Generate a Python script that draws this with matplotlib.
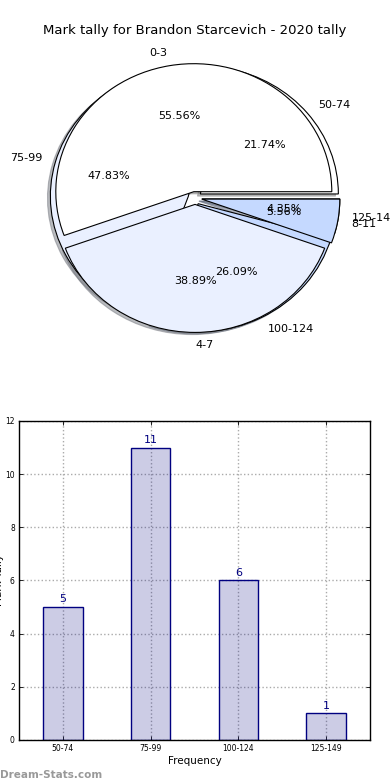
import matplotlib
matplotlib.use("Agg")
import matplotlib.pyplot as plt

title = "Mark tally for Brandon Starcevich - 2020 tally"

# first (older) pie
pie1_labels = ["0-3", "4-7", "8-11"]
pie1_values = [10, 7, 1]

# current tally
bins = ["50-74", "75-99", "100-124", "125-149"]
counts = [5, 11, 6, 1]

pie_colors = ["#ffffff", "#eaf0ff", "#c5d9ff", "#c5d9ff"]

fig = plt.figure(figsize=(3.9, 7.8), dpi=100)

# ---- pie area ----
axp = fig.add_axes([0.0577, 0.541, 0.8846, 0.4103])
wp = dict(edgecolor="black", linewidth=0.8)
shadow = dict(ox=-0.015, oy=-0.012, shade=0.5, alpha=0.5)
axp.pie(counts, labels=bins, autopct="%1.2f%%", explode=[0.05] * len(counts),
        shadow=shadow, colors=pie_colors[:len(counts)], startangle=0,
        wedgeprops=wp, textprops=dict(fontsize=8))
axp.pie(pie1_values, labels=pie1_labels, autopct="%1.2f%%",
        explode=[0.05] * len(pie1_values), shadow=shadow,
        colors=pie_colors[:len(pie1_values)], startangle=0,
        wedgeprops=wp, textprops=dict(fontsize=8))
axp.set_aspect("auto")
axp.set_xlim(-1.25, 1.25)
axp.set_ylim(-1.25, 1.25)
axp.axis("off")
fig.text(0.5, 0.9615, title, ha="center", va="center", fontsize=9.5)

# ---- bar chart ----
axb = fig.add_axes([0.0487, 0.0513, 0.9, 0.409])
x = list(range(len(bins)))
axb.bar(x, counts, width=0.45, color=(0, 0, 0.5, 0.2), edgecolor="navy",
        linewidth=1.0, zorder=2)
for xi, c in zip(x, counts):
    axb.text(xi, c + 0.1, str(c), ha="center", va="bottom", color="navy",
             fontsize=8, zorder=3)
axb.set_xlim(-0.5, 3.5)
axb.set_ylim(0, 12)
axb.set_xticks(x)
axb.set_xticklabels(bins)
axb.set_yticks(range(0, 13, 2))
axb.tick_params(direction="in", labelsize=5.5, top=True, right=True,
                length=3, width=0.6, pad=3)
axb.grid(True, linestyle=":", color="#aaaaaa", linewidth=1.0, zorder=0)
axb.set_axisbelow(True)
for s in axb.spines.values():
    s.set_linewidth(1.0)
axb.set_xlabel("Frequency", fontsize=7.5, labelpad=2)
axb.set_ylabel("Mark Tally", fontsize=7.5)
axb.yaxis.set_label_coords(-0.043, 0.5)

fig.text(0.0, 0.0, "Dream-Stats.com", ha="left", va="bottom", fontsize=7.5,
         color="#999999", fontweight="bold")

fig.savefig("out.png", dpi=100)
